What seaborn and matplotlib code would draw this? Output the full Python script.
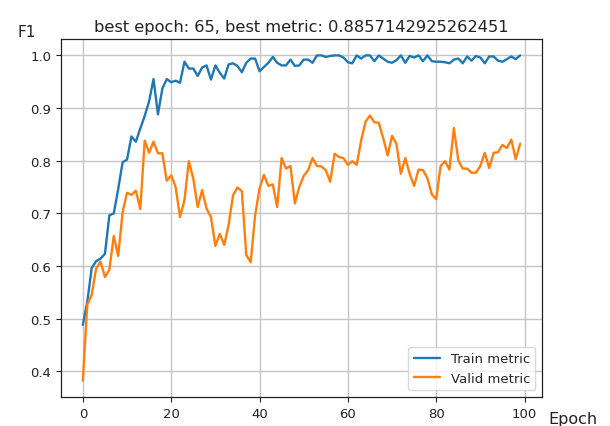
import numpy as np
import pandas as pd
import matplotlib
matplotlib.use("Agg")
import matplotlib.pyplot as plt
import seaborn as sns

# per-epoch F1
train_metric = [
    0.488, 0.532, 0.596, 0.609, 0.614, 0.623, 0.696, 0.700, 0.746, 0.797,
    0.802, 0.846, 0.836, 0.861, 0.885, 0.913, 0.955, 0.888, 0.937, 0.955,
    0.949, 0.952, 0.948, 0.988, 0.975, 0.975, 0.961, 0.977, 0.981, 0.954,
    0.981, 0.967, 0.956, 0.983, 0.985, 0.980, 0.968, 0.986, 0.994, 0.994,
    0.970, 0.978, 0.986, 0.997, 0.986, 0.981, 0.981, 0.992, 0.980, 0.981,
    0.992, 0.992, 0.986, 1.000, 1.000, 0.997, 0.999, 1.000, 1.000, 0.996,
    0.987, 0.985, 1.000, 0.994, 1.000, 1.000, 0.989, 1.000, 0.994, 0.988,
    0.986, 0.991, 1.000, 0.986, 0.999, 0.996, 1.000, 0.989, 1.000, 0.989,
    0.988, 0.988, 0.987, 0.985, 0.992, 0.994, 0.985, 0.998, 0.990, 0.999,
    0.996, 0.985, 0.998, 0.998, 0.990, 0.988, 0.993, 0.998, 0.993, 1.000,
]
valid_metric = [
    0.382, 0.526, 0.545, 0.595, 0.608, 0.579, 0.593, 0.657, 0.619, 0.702,
    0.739, 0.735, 0.743, 0.708, 0.838, 0.815, 0.836, 0.814, 0.814, 0.762,
    0.772, 0.750, 0.693, 0.725, 0.799, 0.766, 0.712, 0.744, 0.709, 0.693,
    0.638, 0.661, 0.640, 0.678, 0.734, 0.749, 0.742, 0.621, 0.607, 0.696,
    0.747, 0.773, 0.752, 0.755, 0.712, 0.805, 0.785, 0.790, 0.719, 0.750,
    0.771, 0.782, 0.805, 0.790, 0.789, 0.782, 0.760, 0.813, 0.807, 0.805,
    0.792, 0.799, 0.792, 0.838, 0.874, 0.8857142925262451, 0.873, 0.872, 0.843, 0.810,
    0.847, 0.832, 0.775, 0.805, 0.775, 0.752, 0.783, 0.782, 0.767, 0.736,
    0.727, 0.790, 0.799, 0.783, 0.862, 0.801, 0.785, 0.785, 0.777, 0.777,
    0.790, 0.815, 0.786, 0.815, 0.816, 0.830, 0.824, 0.840, 0.803, 0.832,
]
epochs = list(range(len(train_metric)))
series_names = ['Train metric', 'Valid metric']

df = pd.concat([
    pd.DataFrame({'Epoch': epochs, 'F1': train_metric, 'Series': series_names[0]}),
    pd.DataFrame({'Epoch': epochs, 'F1': valid_metric, 'Series': series_names[1]}),
])

best_epoch = int(np.argmax(valid_metric))
best_metric = valid_metric[best_epoch]

sns.set_style('white')
plt.rcParams['font.family'] = ['DejaVu Sans']

fig = plt.figure(figsize=(6.1, 4.27), dpi=100)
ax = fig.add_axes([0.1, 0.068, 0.7885, 0.838])

sns.lineplot(data=df, x='Epoch', y='F1', hue='Series',
             palette=['#1f77b4', '#ff7f0e'], linewidth=1.7, ax=ax)

ax.grid(True, color='#c4c4c4', linewidth=1.0)
for s in ax.spines.values():
    s.set_color('#222222')
    s.set_linewidth(0.9)
ax.tick_params(axis='both', which='major', labelsize=9.5, length=3.5,
               width=0.8, color='#222222', labelcolor='#222222',
               bottom=True, left=True)
ax.set_xticks([0, 20, 40, 60, 80, 100])
ax.set_yticks([0.4, 0.5, 0.6, 0.7, 0.8, 0.9, 1.0])

ax.set_title(f'best epoch: {best_epoch}, best metric: {best_metric}',
             fontsize=11.7, color='#222222')
ax.set_xlabel('Epoch', fontsize=11.5, va='center', ha='center', color='#222222')
ax.xaxis.set_label_coords(1.064, -0.061)
ax.set_ylabel('F1', fontsize=11, rotation=0, va='center', ha='center', color='#222222')
ax.yaxis.set_label_coords(-0.071, 1.022)

leg = ax.legend(loc='lower right', fontsize=9.5, title=None, frameon=True)
leg.get_frame().set_edgecolor('#d0d0d0')

fig.savefig('out.png', dpi=100)
